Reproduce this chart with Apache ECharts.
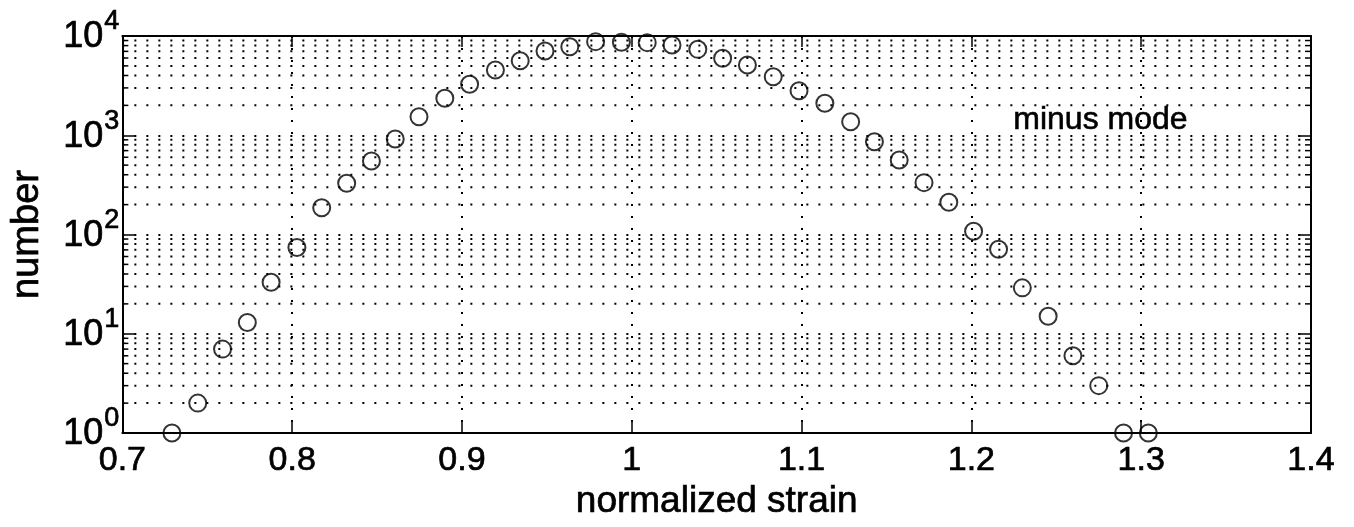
<!DOCTYPE html>
<html>
<head>
<meta charset="utf-8">
<script src="https://cdn.jsdelivr.net/npm/echarts@6/dist/echarts.min.js"></script>
<style>
html,body{margin:0;padding:0;background:#fff;}
#chart{width:1354px;height:527px;}
</style>
</head>
<body>
<div id="chart"></div>
<script>
// ---- data ----
const strain = [0.7292,0.7444,0.7590,0.7736,0.7876,0.8028,0.8174,0.8321,0.8467,0.8607,
  0.8747,0.8899,0.9045,0.9197,0.9343,0.9489,0.9635,0.9787,0.9939,1.0091,
  1.0237,1.0389,1.0535,1.0681,1.0833,1.0985,1.1137,1.1289,1.1429,1.1575,
  1.1721,1.1867,1.2013,1.2160,1.2300,1.2452,1.2598,1.2750,1.2896,1.3042];
const counts = [1,2,7,13,33,74,186,328,550,917,
  1538,2356,3260,4543,5640,7060,7800,8770,8640,8570,
  8120,7340,5960,5100,3890,2810,2100,1370,861,563,
  333,211,108,71,29,15,6,3,1,1];
const xTickLabels = ['0.7','0.8','0.9','1','1.1','1.2','1.3','1.4'];
const yMinorValues = [2,3,4,5,6,7,8,9,20,30,40,50,60,70,80,90,200,300,400,500,600,700,800,900,2000,3000,4000,5000,6000,7000,8000,9000];
const xMin = 0.7, xMax = 1.4, xInterval = 0.1;
const yMin = 1, yMax = 10000;
const xName = 'normalized strain';
const yName = 'number';
const annotation = 'minus mode';

// ---- chart ----
const FONT = '"Liberation Sans", Arial, Helvetica, sans-serif';
const DOT = [2, 10];
const TB = {textBorderColor: '#000', textBorderWidth: 0.7};
const chart = echarts.init(document.getElementById('chart'), null, {renderer: 'canvas'});

const axisLineStyle = {color: '#000', width: 2};

const option = {
  animation: false,
  backgroundColor: '#fff',
  grid: {left: 113, top: 36, right: 43, bottom: 94, containLabel: false},
  xAxis: [{
    type: 'value', min: xMin, max: xMax, interval: xInterval, position: 'bottom',
    name: xName, nameLocation: 'middle', nameGap: 42,
    nameTextStyle: Object.assign({fontFamily: FONT, fontSize: 37, color: '#000'}, TB),
    axisLine: {show: true, lineStyle: axisLineStyle},
    axisTick: {show: true, inside: true, length: 11, lineStyle: {color: '#000', width: 1.5}},
    axisLabel: Object.assign({
      show: true, margin: 11, fontFamily: FONT, fontSize: 34, color: '#000',
      formatter: function (v) { return xTickLabels[Math.round((v - xMin) / xInterval)]; }
    }, TB),
    splitLine: {show: true, lineStyle: {color: '#000', width: 2, type: DOT}}
  }, {
    type: 'value', min: xMin, max: xMax, interval: xInterval, position: 'top',
    axisLine: {show: true, lineStyle: axisLineStyle},
    axisTick: {show: true, inside: true, length: 11, lineStyle: {color: '#000', width: 1.5}},
    axisLabel: {show: false},
    splitLine: {show: false}
  }],
  yAxis: [{
    type: 'log', logBase: 10, min: yMin, max: yMax, position: 'left',
    name: yName, nameLocation: 'middle', nameGap: 76, nameRotate: 90,
    nameTextStyle: Object.assign({fontFamily: FONT, fontSize: 38, color: '#000'}, TB),
    axisLine: {show: true, lineStyle: axisLineStyle},
    axisTick: {show: true, inside: true, length: 13, lineStyle: {color: '#000', width: 1.5}},
    axisLabel: {
      show: true, margin: 3,
      formatter: function (v) { return '{b|10}{s|' + Math.round(Math.log10(v)) + '}'; },
      rich: {
        b: Object.assign({fontFamily: FONT, fontSize: 36, color: '#000', padding: [3, 0, 0, 0]}, TB),
        s: Object.assign({fontFamily: FONT, fontSize: 27, color: '#000', padding: [0, 0, 28, 1]}, TB)
      }
    },
    splitLine: {show: true, lineStyle: {color: '#000', width: 2, type: DOT}}
  }, {
    type: 'log', logBase: 10, min: yMin, max: yMax, position: 'right',
    axisLine: {show: true, lineStyle: axisLineStyle},
    axisTick: {show: true, inside: true, length: 13, lineStyle: {color: '#000', width: 1.5}},
    axisLabel: {show: false},
    splitLine: {show: false}
  }],
  graphic: [{
    type: 'text', left: 1013, top: 104, z: 10,
    style: Object.assign({text: annotation, font: '32px ' + FONT, fill: '#000', stroke: '#000', lineWidth: 0.6})
  }],
  series: [{
    type: 'custom',
    xAxisIndex: 0, yAxisIndex: 0,
    silent: true, z: 1,
    data: yMinorValues.map(function (v) { return [xMin, v]; }),
    renderItem: function (params, api) {
      const cs = params.coordSys;
      const y = api.coord([api.value(0), api.value(1)])[1];
      return {
        type: 'group',
        children: [
          {type: 'line', shape: {x1: cs.x, y1: y, x2: cs.x + cs.width, y2: y},
           style: {stroke: '#000', lineWidth: 2, lineDash: DOT}},
          {type: 'line', shape: {x1: cs.x, y1: y, x2: cs.x + 6, y2: y},
           style: {stroke: '#000', lineWidth: 1.5}},
          {type: 'line', shape: {x1: cs.x + cs.width - 6, y1: y, x2: cs.x + cs.width, y2: y},
           style: {stroke: '#000', lineWidth: 1.5}}
        ]
      };
    }
  }, {
    type: 'scatter',
    xAxisIndex: 0, yAxisIndex: 0,
    clip: false, z: 5,
    symbol: 'circle', symbolSize: 17,
    itemStyle: {color: 'rgba(255,255,255,0)', borderColor: '#000', borderWidth: 2},
    data: strain.map(function (x, i) { return [x, counts[i]]; })
  }]
};
chart.setOption(option);
</script>
</body>
</html>
